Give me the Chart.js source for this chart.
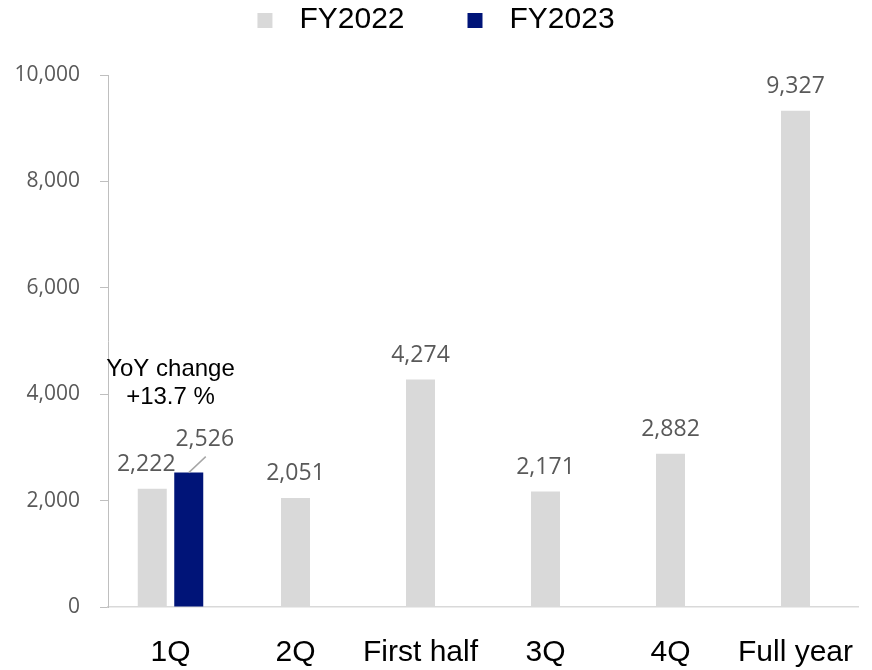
<!DOCTYPE html>
<html>
<head>
<meta charset="utf-8">
<script src="https://cdn.jsdelivr.net/npm/chart.js@4"></script>
<style>
  html, body { margin: 0; padding: 0; background: #fff; }
  #wrap { width: 872px; height: 670px; }
</style>
</head>
<body>
<div id="wrap"><canvas id="chart"></canvas></div>
<script>
var categories = ['1Q', '2Q', 'First half', '3Q', '4Q', 'Full year'];
var fy2022 = [2222, 2051, 4274, 2171, 2882, 9327];
var fy2023 = [2526, null, null, null, null, null];
var yTicks = [0, 2000, 4000, 6000, 8000, 10000];
var yoyNote = ['YoY change', '+13.7 %'];

var colors = ['#d9d9d9', '#001478'];

// legend swatch: blank space on the left, square, small gap before the text
function swatch(color) {
    var c = document.createElement('canvas');
    c.width = 85;
    c.height = 15;
    var g = c.getContext('2d');
    g.fillStyle = color;
    g.fillRect(58, 0, 15, 15);
    return c;
}
var swatches = colors.map(swatch);

var legendHeight = {
    id: 'legendHeight',
    beforeInit: function (chart) {
        var fit = chart.legend.fit;
        chart.legend.fit = function () {
            fit.bind(chart.legend)();
            this.height = 75;
        };
    }
};

var barLabels = {
    id: 'barLabels',
    afterDatasetsDraw: function (chart) {
        var ctx = chart.ctx;
        ctx.save();
        ctx.font = '23px "Open Sans"';
        ctx.fillStyle = '#595959';
        ctx.textAlign = 'center';
        ctx.textBaseline = 'alphabetic';
        chart.data.datasets.forEach(function (ds, di) {
            chart.getDatasetMeta(di).data.forEach(function (bar, i) {
                var v = ds.data[i];
                if (v === null || v === undefined) return;
                var txt = v.toLocaleString('en-US');
                if (di === 1 && i === 0) {
                    ctx.fillText(txt, bar.x + 16, bar.y - 27);
                    ctx.strokeStyle = '#a6a6a6';
                    ctx.lineWidth = 1.5;
                    ctx.beginPath();
                    ctx.moveTo(bar.x, bar.y);
                    ctx.lineTo(bar.x + 17, bar.y - 16);
                    ctx.stroke();
                } else if (di === 0 && i === 0) {
                    ctx.fillText(txt, bar.x - 6, bar.y - 18);
                } else {
                    ctx.fillText(txt, bar.x, bar.y - 18);
                }
            });
        });

        // YoY note above the 1Q pair
        var b = chart.getDatasetMeta(1).data[0];
        var cx = chart.scales.x.getPixelForValue(0);
        ctx.fillStyle = '#000';
        ctx.font = '24px "Liberation Sans", Arial, sans-serif';
        ctx.fillText(yoyNote[0], cx, b.y - 97);
        ctx.fillText(yoyNote[1], cx, b.y - 69);
        ctx.restore();
    }
};

new Chart(document.getElementById('chart'), {
    type: 'bar',
    data: {
        labels: categories,
        datasets: [
            { label: 'FY2022', data: fy2022, backgroundColor: colors[0] },
            { label: 'FY2023', data: fy2023, backgroundColor: colors[1] }
        ]
    },
    options: {
        responsive: true,
        maintainAspectRatio: false,
        animation: false,
        layout: { padding: { left: -44, right: 14, top: 0, bottom: 0 } },
        datasets: {
            bar: {
                skipNull: true,
                categoryPercentage: 0.584,
                barPercentage: 0.8,
                maxBarThickness: 29
            }
        },
        plugins: {
            tooltip: { enabled: false },
            legend: {
                position: 'top',
                labels: {
                    usePointStyle: true,
                    pointStyleWidth: 85,
                    padding: 5,
                    color: '#000',
                    font: { family: '"Liberation Sans", Arial, sans-serif', size: 30 },
                    generateLabels: function (chart) {
                        var items = Chart.defaults.plugins.legend.labels.generateLabels(chart);
                        items.forEach(function (it, i) { it.pointStyle = swatches[i]; });
                        return items;
                    }
                }
            }
        },
        scales: {
            x: {
                grid: { display: false, drawTicks: false },
                border: { color: '#d9d9d9', width: 1.5 },
                ticks: {
                    color: '#000',
                    padding: 28,
                    maxRotation: 0,
                    autoSkip: false,
                    font: { family: '"Liberation Sans", Arial, sans-serif', size: 30 }
                },
                afterFit: function (s) {
                    s.height = 63;
                    s.paddingLeft = 0;
                    s.paddingRight = 0;
                }
            },
            y: {
                min: 0,
                max: 10000,
                grid: { drawOnChartArea: false, tickLength: 8, color: '#bfbfbf' },
                border: { color: '#bfbfbf' },
                ticks: {
                    color: '#595959',
                    padding: 20,
                    font: { family: '"Open Sans"', size: 21 },
                    callback: function (v) { return v.toLocaleString('en-US'); }
                },
                afterBuildTicks: function (s) {
                    s.ticks = yTicks.map(function (v) { return { value: v }; });
                },
                afterFit: function (s) { s.width = 152; }
            }
        }
    },
    plugins: [legendHeight, barLabels]
});
</script>
</body>
</html>
